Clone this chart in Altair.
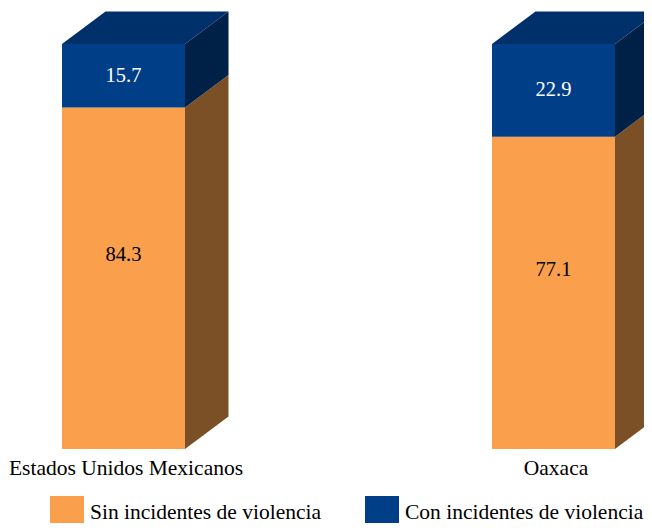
import altair as alt
import pandas as pd

# ---- data ----
categories = ["Estados Unidos Mexicanos", "Oaxaca"]
sin_vals = [84.3, 77.1]   # Sin incidentes de violencia
con_vals = [15.7, 22.9]   # Con incidentes de violencia
series = ["Sin incidentes de violencia", "Con incidentes de violencia"]

# ---- styles ----
front_colors = ["#FA9F4B", "#003E87"]
side_colors = ["#7B5026", "#002147"]
top_color = "#00306A"
label_colors = ["black", "white"]
FONT = "'Times New Roman', 'Liberation Serif', serif"

W, H = 636, 441
PX_PER_UNIT = 4.05
Y_MAX = H / PX_PER_UNIT
SPACING = 430.0          # px between bar centres
X_LO = -115.5 / SPACING
X_HI = (W - 115.5) / SPACING
HW = 61.5 / SPACING      # half bar width (x units)
DX = 43.5 / SPACING      # 3-D depth in x
DY = 32.5 / PX_PER_UNIT  # 3-D depth in y

# ---- tables built from the arrays ----
front_rows, side_rows, top_rows, lab_rows = [], [], [], []
for i, cat in enumerate(categories):
    vals = [sin_vals[i], con_vals[i]]
    base = 0.0
    for s, v in zip(series, vals):
        y0, y1 = base, base + v
        front_rows.append(dict(cat=cat, idx=i, series=s, xl=i - HW, xr=i + HW, y0=y0, y1=y1))
        seg = f"{i}-{s}"
        side_rows.append(dict(seg=seg, series=s, x=i + HW, lo=y0, hi=y1))
        side_rows.append(dict(seg=seg, series=s, x=i + HW + DX, lo=y0 + DY, hi=y1 + DY))
        lab_rows.append(dict(idx=i, series=s, mid=(y0 + y1) / 2, txt=f"{v:.1f}"))
        base = y1
    top_rows.append(dict(idx=i, y=base, xl=i - HW, xr=i + HW))
    top_rows.append(dict(idx=i, y=base + DY, xl=i - HW + DX, xr=i + HW + DX))

front = pd.DataFrame(front_rows)
side = pd.DataFrame(side_rows)
top = pd.DataFrame(top_rows)
labs = pd.DataFrame(lab_rows)
cats = pd.DataFrame({"idx": list(range(len(categories))), "cat": categories})

xs = alt.Scale(domain=[X_LO, X_HI], nice=False, zero=False)
ys = alt.Scale(domain=[0, Y_MAX], nice=False, zero=False)

layers = []
for s, c in zip(series, side_colors):
    layers.append(
        alt.Chart(side[side.series == s]).mark_area(opacity=1, strokeWidth=0).encode(
            x=alt.X("x:Q", scale=xs, axis=None),
            y=alt.Y("lo:Q", scale=ys, axis=None, stack=None),
            y2="hi:Q",
            detail="seg:N",
            color=alt.value(c),
        )
    )

layers.append(
    alt.Chart(top).mark_area(orient="horizontal", opacity=1, strokeWidth=0, color=top_color).encode(
        y=alt.Y("y:Q", scale=ys, axis=None),
        x=alt.X("xl:Q", scale=xs, axis=None, stack=None),
        x2="xr:Q",
        detail="idx:N",
    )
)

layers.append(
    alt.Chart(front).mark_rect(strokeWidth=0).encode(
        x=alt.X("xl:Q", scale=xs, axis=None),
        x2="xr:Q",
        y=alt.Y("y0:Q", scale=ys, axis=None),
        y2="y1:Q",
        color=alt.Color(
            "series:N",
            scale=alt.Scale(domain=series, range=front_colors),
            sort=series,
            legend=alt.Legend(
                title=None,
                orient="none",
                legendX=42,
                legendY=488,
                direction="horizontal",
                symbolType="square",
                symbolSize=1156,
                symbolStrokeWidth=0,
                symbolOpacity=1,
                labelFont=FONT,
                labelFontSize=21.5,
                labelColor="black",
                labelOffset=6,
                columnPadding=43,
                padding=0,
                labelLimit=400,
            ),
        ),
    )
)

for s, lc, dy in zip(series, label_colors, [-23, 0]):
    layers.append(
        alt.Chart(labs[labs.series == s]).mark_text(
            font=FONT, fontSize=20.5, color=lc, baseline="middle", align="center", dy=dy
        ).encode(
            x=alt.X("idx:Q", scale=xs, axis=None),
            y=alt.Y("mid:Q", scale=ys, axis=None),
            text="txt:N",
        )
    )

layers.append(
    alt.Chart(cats).mark_text(
        font=FONT, fontSize=21.5, color="black", baseline="alphabetic", align="center", dy=26, dx=2.5
    ).encode(
        x=alt.X("idx:Q", scale=xs, axis=None),
        y=alt.datum(0, scale=ys),
        text="cat:N",
    )
)

chart = alt.layer(*layers).properties(
    width=W,
    height=H,
    autosize=alt.AutoSizeParams(type="none"),
    padding={"left": 0, "top": 0, "right": 0, "bottom": 74},
).configure(font=FONT).configure_view(stroke=None).configure_text(font=FONT)

chart.save("out.html", embed_options={"renderer": "svg", "actions": False})
